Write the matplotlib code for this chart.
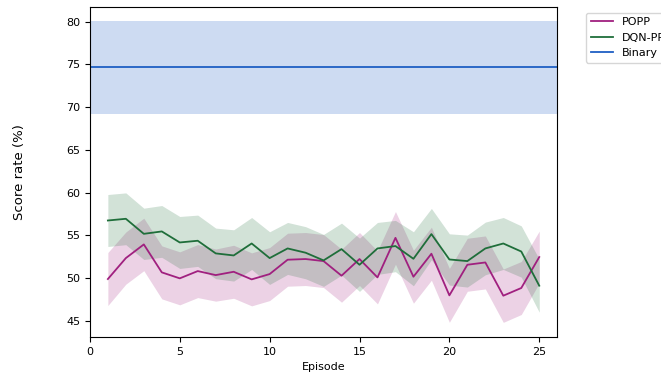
import numpy as np
import matplotlib
matplotlib.use("agg")
import matplotlib.pyplot as plt

episodes = np.arange(1, 26)

popp_mean = [49.88, 52.33, 53.93, 50.66, 49.96, 50.81, 50.34, 50.73, 49.84, 50.46,
             52.14, 52.22, 51.98, 50.27, 52.22, 50.07, 54.70, 50.15, 52.84, 47.97,
             51.55, 51.82, 47.93, 48.83, 52.45]
popp_std = [3.1, 3.05, 3.07, 3.1, 3.1, 3.1, 3.05, 3.1, 3.1, 3.1,
            3.1, 3.1, 3.1, 3.1, 3.1, 3.1, 3.08, 3.1, 3.1, 3.15,
            3.1, 3.1, 3.12, 3.1, 3.04]

dqn_mean = [56.73, 56.93, 55.17, 55.45, 54.16, 54.36, 52.88, 52.64, 54.04, 52.33,
            53.46, 52.96, 52.06, 53.38, 51.55, 53.46, 53.74, 52.25, 55.14, 52.17,
            51.98, 53.46, 54.04, 53.10, 49.10]
dqn_std = [3.04, 3.03, 3.0, 3.03, 3.04, 3.0, 2.96, 3.0, 3.04, 3.08,
           3.04, 3.05, 3.04, 3.04, 3.12, 3.04, 3.0, 3.16, 3.0, 3.0,
           3.04, 3.08, 3.04, 3.0, 3.1]

binary_mean = 74.65
binary_std = 5.42

popp_mean, popp_std = np.array(popp_mean), np.array(popp_std)
dqn_mean, dqn_std = np.array(dqn_mean), np.array(dqn_std)

c_popp = '#a0207f'
c_dqn = '#1f6e3a'
c_bin = '#1f5fc4'

fig = plt.figure(figsize=(6.61, 3.74), dpi=100)
ax = fig.add_axes([0.136, 0.099, 0.707, 0.882])

ax.plot(episodes, popp_mean, color=c_popp, lw=1.3, label='POPP')
ax.fill_between(episodes, popp_mean - popp_std, popp_mean + popp_std,
                color=c_popp, alpha=0.2, lw=0)
ax.plot(episodes, dqn_mean, color=c_dqn, lw=1.3, label='DQN-PP')
ax.fill_between(episodes, dqn_mean - dqn_std, dqn_mean + dqn_std,
                color=c_dqn, alpha=0.2, lw=0)
ax.axhline(binary_mean, color=c_bin, lw=1.3, label='Binary')
ax.axhspan(binary_mean - binary_std, binary_mean + binary_std,
           color=c_bin, alpha=0.22, lw=0)

ax.set_xlim(0, 26)
ax.set_ylim(43.1, 81.7)
ax.set_xticks([0, 5, 10, 15, 20, 25])
ax.set_yticks([45, 50, 55, 60, 65, 70, 75, 80])
ax.tick_params(labelsize=8)
ax.set_xlabel('Episode', fontsize=8)
ax.set_ylabel('Score rate (%)', fontsize=9.5, labelpad=29)

ax.legend(loc='upper left', bbox_to_anchor=(1.05, 1.0), fontsize=8)

fig.savefig('out.png', dpi=100)
plt.close(fig)
